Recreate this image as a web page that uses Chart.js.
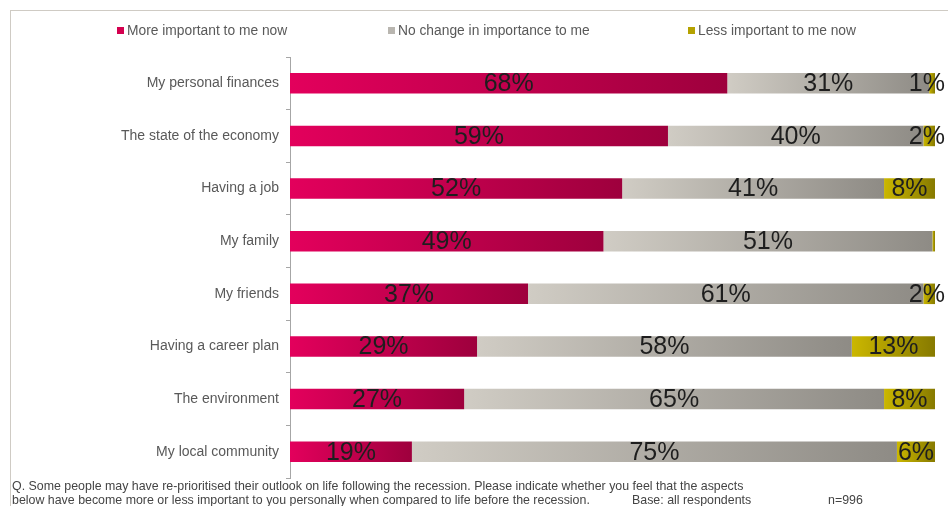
<!DOCTYPE html>
<html lang="en">
<head>
  <meta charset="UTF-8"/>
  <title>Importance of life aspects after the recession</title>
  <script src="https://cdn.jsdelivr.net/npm/chart.js"></script>
  <style>
    * { box-sizing: border-box; margin: 0; padding: 0; }
    body {
      width: 948px;
      height: 506px;
      overflow: hidden;
      background: #fff;
      font-family: 'Liberation Sans', Arial, sans-serif;
      position: relative;
    }
    /* thin frame round the slide area */
    #frame {
      position: absolute;
      left: 10px;
      top: 10px;
      width: 1000px;
      height: 600px;
      border-left: 1px solid #cfcbc4;
      border-top: 1px solid #cfcbc4;
    }
    #chart-box {
      position: absolute;
      left: 0; top: 0;
      width: 948px;
      height: 506px;
    }
    /* Legend */
    #legend {
      position: absolute;
      top: 23px;
      left: 0;
      width: 948px;
      font-size: 13.8px;
      color: #595959;
    }
    #legend span { position: absolute; white-space: nowrap; }
    #legend i {
      display: inline-block;
      width: 7px;
      height: 7px;
      margin-right: 3px;
      vertical-align: 1px;
    }
    /* Footnote */
    #note {
      position: absolute;
      left: 12px;
      top: 479px;
      font-size: 12.4px;
      line-height: 14px;
      color: #444;
      white-space: nowrap;
    }
    #note span { position: absolute; white-space: nowrap; }
  </style>
</head>
<body>

  <div id="frame"></div>
  <div id="chart-box">
    <canvas id="prioChart" width="948" height="506"></canvas>
  </div>
  <div id="legend"></div>
  <div id="note">
    <div>Q. Some people may have re-prioritised their outlook on life following the recession. Please indicate whether you feel that the aspects</div>
    <div>below have become more or less important to you personally when compared to life before the recession.</div>
    <span style="left:620px; top:14px;">Base: all respondents</span>
    <span style="left:816px; top:14px;">n=996</span>
  </div>

  <script>
    const categories = [
      'My personal finances',
      'The state of the economy',
      'Having a job',
      'My family',
      'My friends',
      'Having a career plan',
      'The environment',
      'My local community'
    ];

    const seriesNames = [
      'More important to me now',
      'No change in importance to me',
      'Less important to me now'
    ];

    // share of respondents, %
    const moreImportant = [67.8, 58.6, 51.5, 48.6, 36.9, 29.0, 27.0, 18.9];
    const noChange      = [31.3, 39.6, 40.6, 51.0, 61.3, 58.1, 65.1, 75.2];
    const lessImportant = [0.9, 1.8, 7.9, 0.4, 1.8, 12.9, 7.9, 5.9];

    // gradient stops (left -> right) and legend swatch per series
    const gradients = [
      ['#e3005c', '#9e003d'],
      ['#d0ccc4', '#8e8b85'],
      ['#cbb700', '#877a00']
    ];
    const swatches = ['#d4004f', '#b9b6b0', '#b5a200'];

    // HTML legend, spaced out like the original slide
    const legendX = [117, 388, 688];
    const legend = document.getElementById('legend');
    seriesNames.forEach((name, i) => {
      const s = document.createElement('span');
      s.style.left = legendX[i] + 'px';
      s.innerHTML = '<i style="background:' + swatches[i] + '"></i>' + name;
      legend.appendChild(s);
    });

    const seriesData = [moreImportant, noChange, lessImportant];

    // horizontal gradient spanning a single stacked segment
    function segmentGradient(ctx) {
      const chart = ctx.chart;
      const ds = ctx.datasetIndex;
      if (!chart.chartArea || ctx.dataIndex === undefined) return swatches[ds];
      const i = ctx.dataIndex;
      let start = 0;
      for (let k = 0; k < ds; k++) start += seriesData[k][i];
      const end = start + seriesData[ds][i];
      const xs = chart.scales.x;
      const x0 = xs.getPixelForValue(start);
      const x1 = xs.getPixelForValue(end);
      if (!isFinite(x0) || !isFinite(x1) || x1 - x0 < 0.5) return gradients[ds][0];
      const g = chart.ctx.createLinearGradient(x0, 0, x1, 0);
      g.addColorStop(0, gradients[ds][0]);
      g.addColorStop(1, gradients[ds][1]);
      return g;
    }

    // percentage labels centred in each segment (kept inside the canvas)
    const valueLabels = {
      id: 'valueLabels',
      afterDatasetsDraw(chart) {
        const c = chart.ctx;
        c.save();
        c.font = '25px "Liberation Sans", Arial, sans-serif';
        c.fillStyle = '#1e1e1e';
        c.textAlign = 'center';
        c.textBaseline = 'middle';
        chart.data.datasets.forEach((ds, d) => {
          const meta = chart.getDatasetMeta(d);
          meta.data.forEach((bar, i) => {
            const v = Math.round(ds.data[i]);
            if (v < 1) return;
            const txt = v + '%';
            const half = c.measureText(txt).width / 2;
            const x = Math.min((bar.x + bar.base) / 2, chart.width - 3 - half);
            c.fillText(txt, x, bar.y + 1);
          });
        });
        c.restore();
      }
    };

    new Chart(document.getElementById('prioChart'), {
      type: 'bar',
      data: {
        labels: categories,
        datasets: seriesData.map((data, i) => ({
          label: seriesNames[i],
          data: data,
          backgroundColor: segmentGradient,
          borderWidth: 0,
          categoryPercentage: 1,
          barPercentage: 0.39
        }))
      },
      options: {
        indexAxis: 'y',
        responsive: false,
        animation: false,
        layout: { padding: { top: 57, bottom: 28, right: 13, left: 0 } },
        scales: {
          x: {
            stacked: true,
            display: false,
            min: 0,
            max: 100
          },
          y: {
            stacked: true,
            afterFit(scale) { scale.width = 290; },
            grid: {
              display: true,
              drawOnChartArea: false,
              offset: true,
              tickLength: 4,
              color: '#a6a6a6'
            },
            border: { display: true, color: '#a6a6a6' },
            ticks: {
              padding: 7,
              color: '#595959',
              font: { family: '"Liberation Sans", Arial, sans-serif', size: 14 }
            }
          }
        },
        plugins: {
          legend: { display: false },
          tooltip: { enabled: false }
        }
      },
      plugins: [valueLabels]
    });
  </script>
</body>
</html>
